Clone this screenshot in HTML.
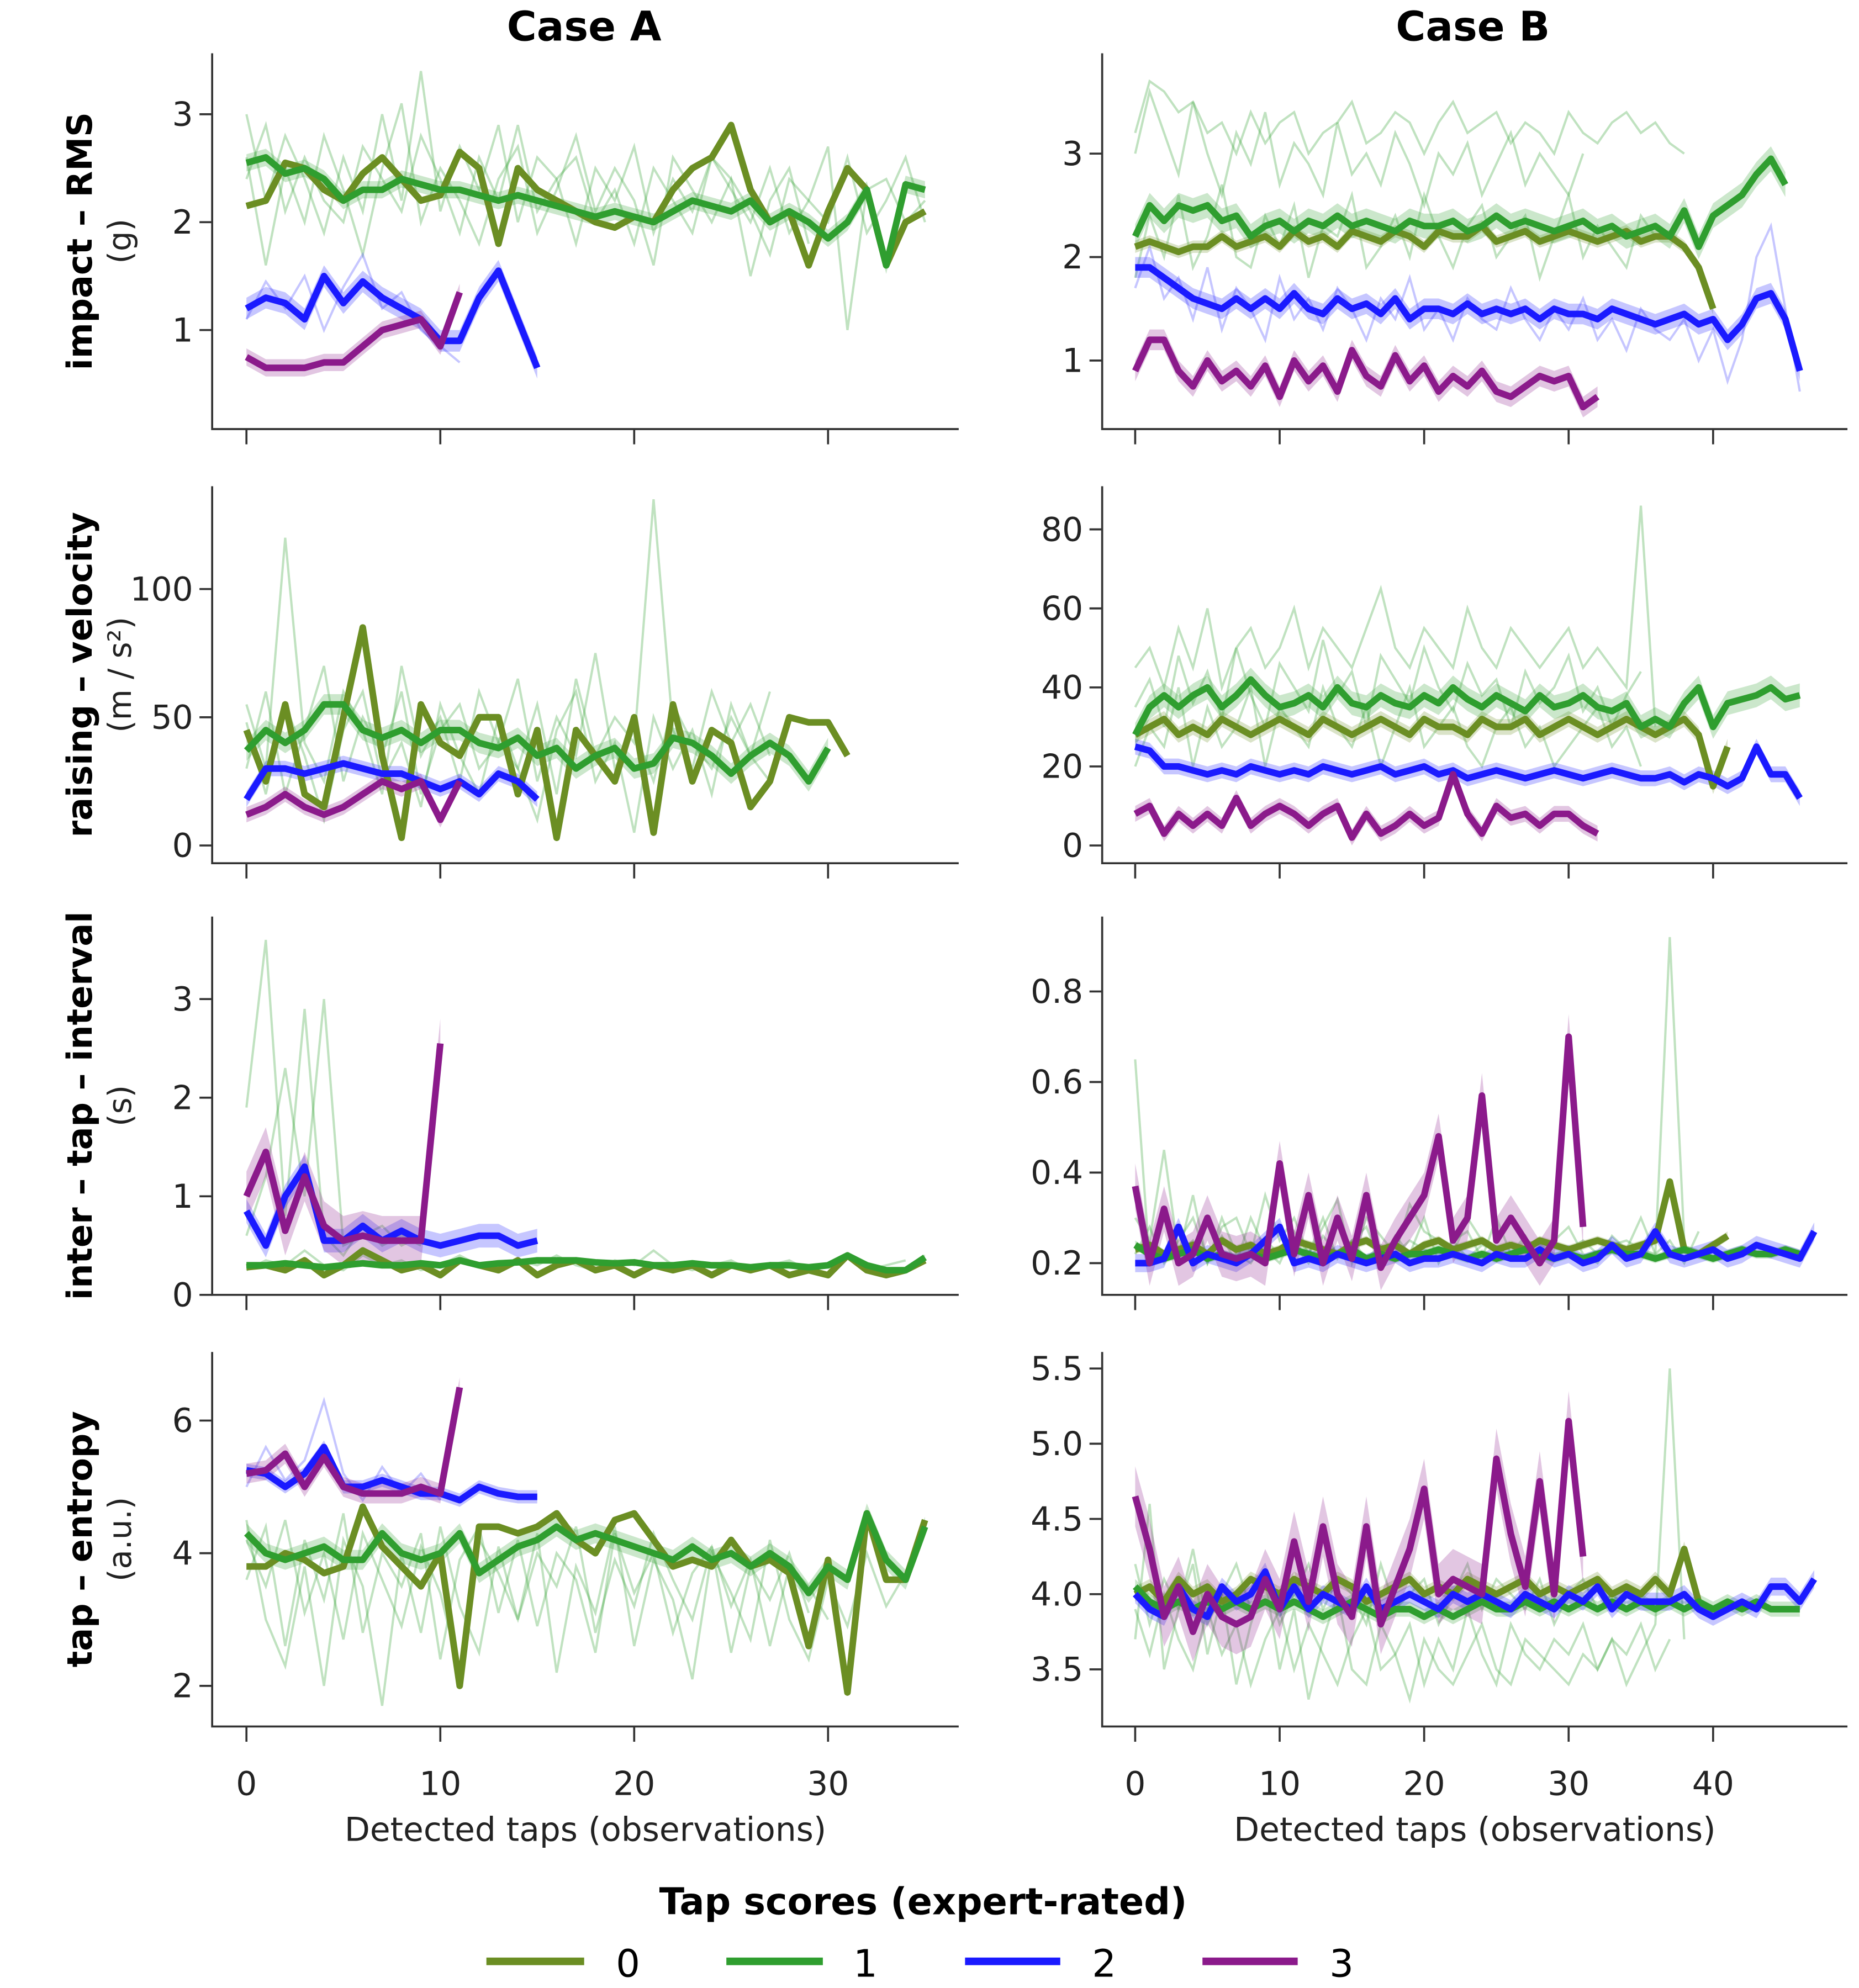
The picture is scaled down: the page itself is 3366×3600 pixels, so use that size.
<!DOCTYPE html>
<html><head><meta charset="utf-8"><style>
html,body{margin:0;padding:0;background:#fff;}
svg{display:block;font-family:"DejaVu Sans","Liberation Sans",sans-serif;}
</style></head><body>
<svg id="fig" width="3366" height="3600" viewBox="0 0 1464 1566" xmlns="http://www.w3.org/2000/svg">
<rect width="1464" height="1566" fill="#fff"/>
<text x="460" y="32" font-size="32" font-weight="bold" text-anchor="middle">Case A</text>
<text x="1160" y="32" font-size="32" font-weight="bold" text-anchor="middle">Case B</text>
<g id="panels"></g>
<text x="727" y="1508" font-size="29" font-weight="bold" text-anchor="middle">Tap scores (expert-rated)</text>
<g>
<line x1="383" y1="1545" x2="460" y2="1545" stroke="#6b8e23" stroke-width="6"/><text x="485" y="1557" font-size="30">0</text>
<line x1="572" y1="1545" x2="648" y2="1545" stroke="#2f9e2f" stroke-width="6"/><text x="672" y="1557" font-size="30">1</text>
<line x1="760" y1="1545" x2="835" y2="1545" stroke="#1a1aff" stroke-width="6"/><text x="860" y="1557" font-size="30">2</text>
<line x1="947" y1="1545" x2="1022" y2="1545" stroke="#8b1a8b" stroke-width="6"/><text x="1047" y="1557" font-size="30">3</text>
</g>
</svg>
<script>
// ---- data ----
const a1_s0=[2.15,2.2,2.55,2.5,2.3,2.2,2.45,2.6,2.4,2.2,2.25,2.65,2.5,1.8,2.5,2.3,2.2,2.1,2.0,1.95,2.05,2.0,2.3,2.5,2.6,2.9,2.3,2.0,2.1,1.6,2.1,2.5,2.3,1.6,2.0,2.1];
const a1_s1=[2.55,2.6,2.45,2.5,2.4,2.2,2.3,2.3,2.4,2.35,2.3,2.3,2.25,2.2,2.25,2.2,2.15,2.1,2.05,2.1,2.05,2.0,2.1,2.2,2.15,2.1,2.2,2.0,2.1,2.0,1.85,2.0,2.3,1.6,2.35,2.3];
const a1_s2=[1.2,1.3,1.25,1.1,1.5,1.25,1.45,1.3,1.2,1.1,0.9,0.9,1.3,1.55,1.1,0.65];
const a1_s3=[0.75,0.65,0.65,0.65,0.7,0.7,0.85,1.0,1.05,1.1,0.85,1.35];
const a1_f1=[3.0,2.2,2.8,2.4,1.9,2.6,2.1,3.0,2.2,3.4,2.1,2.7,2.3,2.9,2.0,2.6,2.4,1.8,2.5,2.2,2.7,1.9,2.4,2.1,2.6,2.3,2.0,2.5,1.9,2.2,2.7,1.0,2.3,2.4,2.0,2.2];
const a1_f2=[2.4,2.9,2.1,2.6,2.2,2.0,2.7,2.4,2.1,2.8,2.4,1.9,2.6,2.2,2.9,2.1,2.4,2.6,2.0,2.3,1.8,2.5,2.2,1.9,2.6,2.4,2.1,1.7,2.4,2.2,2.0,2.6,1.9,2.2,2.6,2.0];
const a1_f3=[2.6,1.6,2.5,2.0,2.8,2.3,1.7,2.5,3.1,2.0,2.5,2.2,1.8,2.4,2.7,1.9,2.3,2.8,2.1,2.5,2.2,1.6,2.6,2.3,2.0,2.4,1.5,2.2,2.5,1.8];
const a1_b1=[1.1,1.45,1.2,1.5,1.0,1.4,1.7,1.2,1.35,1.0,0.85,0.7];
const b1_s0=[2.1,2.15,2.1,2.05,2.1,2.1,2.2,2.1,2.15,2.2,2.1,2.25,2.15,2.2,2.1,2.25,2.2,2.15,2.25,2.2,2.1,2.25,2.2,2.2,2.3,2.15,2.2,2.25,2.15,2.2,2.25,2.2,2.15,2.2,2.25,2.15,2.2,2.2,2.1,1.9,1.5];
const b1_s1=[2.2,2.5,2.35,2.5,2.45,2.5,2.35,2.4,2.2,2.3,2.35,2.25,2.35,2.3,2.4,2.3,2.35,2.3,2.25,2.35,2.3,2.3,2.35,2.25,2.3,2.4,2.3,2.35,2.3,2.25,2.3,2.35,2.25,2.3,2.2,2.25,2.3,2.2,2.45,2.1,2.4,2.5,2.6,2.8,2.95,2.7];
const b1_s2=[1.9,1.9,1.8,1.7,1.6,1.55,1.5,1.6,1.5,1.6,1.5,1.65,1.5,1.45,1.6,1.5,1.55,1.45,1.6,1.4,1.5,1.5,1.45,1.55,1.45,1.5,1.45,1.5,1.4,1.5,1.45,1.45,1.4,1.5,1.45,1.4,1.35,1.4,1.45,1.35,1.4,1.2,1.35,1.6,1.65,1.4,0.9];
const b1_s3=[0.9,1.2,1.2,0.9,0.75,1.0,0.8,0.9,0.75,0.95,0.65,1.0,0.8,0.95,0.7,1.1,0.85,0.75,1.05,0.8,0.95,0.7,0.85,0.75,0.9,0.7,0.65,0.75,0.85,0.8,0.85,0.55,0.65];
const b1_f1=[3.2,3.7,3.6,3.4,3.5,3.2,3.3,3.0,3.4,3.1,3.3,3.4,3.0,3.2,3.3,3.5,3.1,3.2,3.4,3.3,3.0,3.3,3.5,3.2,3.3,3.4,3.1,3.3,3.2,3.0,3.4,3.2,3.1,3.3,3.4,3.2,3.3,3.1,3.0];
const b1_f2=[1.8,2.4,2.0,2.6,1.9,2.2,2.7,2.0,1.9,2.4,2.1,2.5,1.8,2.3,2.2,2.6,1.9,2.1,2.4,2.0,2.6,2.2,1.9,2.3,2.5,2.0,2.2,2.4,1.8,2.2,2.6,2.0,2.3,2.1,1.9,2.4,2.2];
const b1_f3=[3.0,3.6,3.2,2.8,3.5,3.0,2.6,3.2,2.9,3.4,2.7,3.1,2.9,2.6,3.3,2.8,3.0,2.7,3.2,2.9,2.5,3.0,2.8,3.1,2.6,2.9,3.2,2.7,3.0,2.8,2.6,3.0];
const b1_b1=[1.7,2.1,1.6,1.8,1.4,1.9,1.3,1.7,1.5,1.2,1.8,1.4,1.6,1.3,1.7,1.5,1.2,1.6,1.4,1.8,1.3,1.5,1.2,1.6,1.4,1.3,1.7,1.4,1.2,1.5,1.3,1.6,1.2,1.4,1.1,1.5,1.3,1.2,1.4,1.0,1.3,0.8,1.2,2.0,2.3,1.5,0.7];
const a2_s0=[45,25,55,20,15,50,85,35,3,55,40,35,50,50,20,45,3,45,35,25,50,5,55,25,45,40,15,25,50,48,48,35];
const a2_s1=[37,45,40,45,55,55,45,42,45,40,45,45,40,38,42,35,38,30,35,38,30,32,42,40,35,28,35,40,35,25,38];
const a2_s2=[18,30,30,28,30,32,30,28,28,25,22,25,20,28,25,18];
const a2_s3=[12,15,20,15,12,15,20,25,22,25,10,25];
const a2_f1=[55,30,120,40,25,60,45,20,70,35,50,25,60,40,30,55,20,65,35,50,40,135,45,30,60,40,55,35];
const a2_f2=[30,60,20,45,70,25,50,35,60,20,45,55,30,40,65,25,50,35,75,30,45,25,55,40,30,50,35,60];
const a2_f3=[48,20,55,35,10,45,60,25,40,15,55,35,20,50,30,10,45,60,25,40,5,50,30,45,20,55,35,25];
const b2_s0=[28,30,32,28,30,28,32,30,28,30,32,30,28,32,30,28,30,32,30,28,32,30,30,28,32,30,30,32,28,30,32,30,28,30,32,30,28,30,32,28,15,25];
const b2_s1=[28,35,38,35,38,40,35,38,42,38,35,36,38,35,40,36,35,38,36,35,38,36,40,37,35,38,36,34,38,35,36,38,35,34,36,30,32,30,36,40,30,36,37,38,40,37,38];
const b2_s2=[25,24,20,20,19,18,19,18,20,19,18,19,18,20,19,18,19,20,18,19,20,18,19,17,18,19,18,17,18,19,18,17,18,19,18,17,17,18,16,18,17,15,17,25,18,18,12];
const b2_s3=[8,10,3,8,5,8,5,12,5,8,10,8,5,8,10,2,8,3,5,8,5,7,18,8,3,10,7,8,5,8,8,5,3];
const b2_f1=[45,50,40,55,45,60,40,50,55,45,50,60,45,55,50,45,55,65,50,45,55,50,45,60,50,45,55,50,45,50,55,45,50,45,40,86,30];
const b2_f2=[20,30,25,40,20,35,25,30,40,20,35,30,25,40,30,25,35,20,30,40,25,30,35,25,20,30,35,25,30,20,25,30,35,25,30,20];
const b2_f3=[35,42,30,48,36,44,32,50,38,30,46,40,34,52,38,44,30,48,42,36,50,40,34,46,38,42,30,44,36,40,48,34,40,30,38,44];
const a3_s0=[0.28,0.3,0.25,0.35,0.2,0.3,0.45,0.35,0.25,0.3,0.2,0.35,0.3,0.25,0.35,0.2,0.3,0.35,0.25,0.3,0.2,0.3,0.25,0.3,0.2,0.3,0.25,0.3,0.2,0.25,0.2,0.4,0.25,0.2,0.25,0.35];
const a3_s1=[0.3,0.3,0.32,0.3,0.28,0.3,0.32,0.3,0.3,0.32,0.3,0.35,0.3,0.32,0.33,0.35,0.35,0.35,0.33,0.32,0.33,0.3,0.3,0.32,0.3,0.3,0.28,0.3,0.3,0.28,0.3,0.4,0.3,0.25,0.25,0.38];
const a3_s2=[0.85,0.5,1.0,1.3,0.55,0.55,0.7,0.55,0.65,0.55,0.5,0.55,0.6,0.6,0.5,0.55];
const a3_s3=[1.0,1.45,0.65,1.2,0.7,0.55,0.6,0.55,0.55,0.55,2.55];
const a3_f1=[1.9,3.6,0.8,2.9,0.6,0.4,0.7,0.5,0.6,0.5];
const a3_f2=[0.6,1.2,2.3,1.0,3.0,0.5,0.6,0.7,0.5,0.6];
const a3_f3=[0.25,0.35,0.3,0.45,0.3,0.25,0.4,0.3,0.35,0.25,0.3,0.4,0.3,0.25,0.35,0.3,0.4,0.3,0.25,0.35,0.3,0.45,0.3,0.25,0.3,0.35,0.25,0.3,0.35,0.25,0.3,0.4,0.25,0.3,0.35];
const b3_s0=[0.23,0.24,0.22,0.23,0.24,0.22,0.25,0.23,0.24,0.22,0.23,0.25,0.24,0.23,0.22,0.24,0.25,0.23,0.24,0.22,0.24,0.25,0.23,0.24,0.25,0.23,0.24,0.23,0.25,0.24,0.23,0.24,0.25,0.24,0.23,0.24,0.25,0.38,0.23,0.22,0.24,0.26];
const b3_s1=[0.24,0.22,0.21,0.22,0.23,0.21,0.22,0.21,0.22,0.21,0.22,0.23,0.22,0.21,0.22,0.23,0.21,0.22,0.21,0.22,0.22,0.23,0.22,0.21,0.22,0.21,0.22,0.23,0.22,0.21,0.22,0.21,0.22,0.23,0.22,0.22,0.21,0.22,0.23,0.22,0.21,0.22,0.23,0.22,0.22,0.23,0.22];
const b3_s2=[0.2,0.2,0.21,0.28,0.2,0.22,0.21,0.2,0.22,0.25,0.28,0.2,0.21,0.2,0.22,0.21,0.2,0.21,0.22,0.2,0.21,0.21,0.22,0.21,0.2,0.22,0.21,0.21,0.23,0.21,0.22,0.2,0.21,0.24,0.21,0.22,0.27,0.22,0.21,0.22,0.23,0.21,0.22,0.24,0.23,0.22,0.21,0.27];
const b3_s3=[0.37,0.2,0.32,0.2,0.22,0.3,0.22,0.21,0.22,0.2,0.42,0.22,0.35,0.2,0.3,0.21,0.35,0.19,0.25,0.3,0.35,0.48,0.25,0.3,0.57,0.25,0.3,0.25,0.2,0.25,0.7,0.28];
const b3_f1=[0.65,0.2,0.3,0.22,0.25,0.2,0.3,0.22,0.2,0.25,0.22,0.24,0.2,0.26,0.22,0.25,0.21,0.24,0.22,0.25,0.23,0.22,0.25,0.21,0.24,0.23,0.22,0.25,0.24,0.22,0.23,0.25,0.22,0.24,0.25,0.23,0.22,0.92,0.25];
const b3_f2=[0.3,0.25,0.45,0.22,0.35,0.2,0.28,0.3,0.22,0.35,0.25,0.3,0.22,0.28,0.34,0.2,0.3,0.26,0.22,0.33,0.27,0.25,0.22,0.3,0.25];
const b3_f3=[0.22,0.28,0.2,0.25,0.3,0.21,0.26,0.2,0.3,0.23,0.2,0.27,0.22,0.3,0.21,0.25,0.28,0.2,0.26,0.22,0.3,0.2,0.25,0.27,0.21,0.3,0.22,0.26,0.2,0.25,0.28,0.22,0.2,0.26,0.23,0.3,0.22,0.25,0.2,0.27];
const a4_s0=[3.8,3.8,4.0,3.9,3.7,3.8,4.7,4.1,3.8,3.5,4.0,2.0,4.4,4.4,4.3,4.4,4.6,4.2,4.0,4.5,4.6,4.2,3.8,3.9,3.8,4.2,3.8,3.9,3.7,2.6,3.9,1.9,4.6,3.6,3.6,4.5];
const a4_s1=[4.3,4.0,3.9,4.0,4.1,3.9,3.9,4.3,4.0,3.9,4.0,4.3,3.7,3.9,4.1,4.2,4.4,4.2,4.3,4.2,4.1,4.0,3.9,4.1,3.9,4.0,3.8,4.0,3.8,3.4,3.8,3.6,4.6,3.9,3.6,4.4];
const a4_s2=[5.25,5.2,5.0,5.2,5.6,5.0,5.0,5.1,5.0,4.9,4.9,4.8,5.0,4.9,4.85,4.85];
const a4_s3=[5.2,5.25,5.5,5.0,5.45,5.0,4.9,4.9,4.9,5.0,4.9,6.5];
const a4_f1=[4.5,3.0,2.3,3.8,2.0,4.2,3.5,1.7,4.0,2.8,4.4,3.2,2.5,4.1,3.0,4.3,2.2,3.8,3.1,4.4,2.6,3.9,3.3,2.1,4.0,3.4,2.7,4.2,3.0,2.4,3.6,2.9,4.0,3.2,3.7];
const a4_f2=[3.6,4.4,2.6,4.2,3.3,4.6,2.8,4.0,3.5,4.3,2.4,3.9,4.4,3.1,4.2,2.9,4.0,3.6,2.5,4.3,3.4,4.0,2.8,3.7,4.1,3.2,3.9,2.6,3.8,3.5,3.0];
const a4_f3=[4.2,3.5,4.5,3.1,4.0,2.7,4.3,3.6,2.9,4.1,3.4,2.2,4.2,3.7,3.0,4.0,3.5,4.4,2.8,3.9,3.2,4.3,3.6,3.0,4.1,2.5,3.8,3.3,4.0,3.1];
const a4_b1=[5.0,5.6,5.1,5.4,6.3,5.2,4.8,5.3,4.9,5.2,4.8];
const b4_s0=[4.0,4.05,3.95,4.1,4.0,4.05,3.95,4.0,4.1,4.05,4.0,4.1,4.05,4.0,4.1,4.05,3.95,4.0,4.05,4.1,4.0,4.05,4.0,4.1,4.05,4.0,4.05,4.1,4.0,4.05,4.0,4.05,4.1,4.0,4.05,4.0,4.1,4.0,4.3,3.95];
const b4_s1=[4.05,3.95,3.9,3.95,3.9,3.95,3.9,3.95,3.9,3.95,3.9,3.95,3.9,3.85,3.9,3.95,3.9,3.85,3.9,3.9,3.85,3.9,3.85,3.9,3.95,3.9,3.9,3.95,3.9,3.95,3.9,3.95,3.9,3.95,3.9,3.95,3.9,3.95,3.9,3.95,3.9,3.95,3.9,3.95,3.9,3.9,3.9];
const b4_s2=[4.0,3.9,3.85,4.05,3.9,3.85,4.05,3.95,4.0,4.15,3.9,4.05,3.9,4.0,3.95,3.9,4.05,3.9,3.95,4.0,3.95,3.9,4.0,3.95,4.0,3.95,3.9,4.0,3.95,3.9,4.0,3.95,4.05,3.9,4.0,3.95,3.95,3.95,4.0,3.9,3.85,3.9,3.95,3.9,4.05,4.05,3.95,4.1];
const b4_s3=[4.65,4.3,3.85,4.05,3.75,4.0,3.85,3.8,3.85,4.1,3.9,4.35,3.95,4.45,4.0,3.85,4.45,3.8,4.05,4.3,4.7,4.0,4.1,4.05,4.0,4.9,4.4,4.05,4.75,4.0,5.15,4.25];
const b4_f1=[3.7,4.6,3.5,3.9,4.2,3.6,4.0,3.4,3.8,4.1,3.5,3.9,3.3,3.7,4.0,3.5,3.4,3.8,3.6,3.3,3.7,3.5,3.4,3.6,3.8,3.5,3.4,3.7,3.6,3.5,3.4,3.6,3.5,3.7,3.4,3.6,3.8,5.5,3.7];
const b4_f2=[4.2,3.8,4.1,3.9,4.3,3.8,4.0,4.2,3.9,4.1,3.8,4.0,4.2,3.9,4.1,4.0,3.8,4.2,3.9,4.0,4.1,3.8,4.0,4.2,3.9,4.1,4.0,3.9,4.1,3.8,4.0,4.1,3.9,4.0,3.9,4.0];
const b4_f3=[3.9,3.6,4.0,3.7,3.5,3.9,3.6,3.8,3.4,3.7,3.9,3.5,3.8,3.6,3.4,3.7,3.9,3.5,3.6,3.8,3.4,3.7,3.5,3.9,3.6,3.4,3.8,3.6,3.5,3.7,3.6,3.8,3.5,3.7,3.6,3.8,3.5,3.7];
const xTicksA=[0,10,20,30], xTicksB=[0,10,20,30,40];
</script>
<script>
const COLORS=["#6b8e23","#2f9e2f","#1a1aff","#8b1a8b"];
const rowsY=[[42,338],[383,680],[722,1020],[1065,1360]];
const colX=[{sp:167,x0:194,ppu:15.27,end:755,ticks:xTicksA},{sp:868,x0:894,ppu:11.38,end:1455,ticks:xTicksB}];
const panels=[
 {r:0,c:0,ticks:[1,2,3],lab:["1","2","3"],ref:[3,90,1,260],series:[a1_s0,a1_s1,a1_s2,a1_s3],faint:[a1_f1,a1_f2,a1_f3],faintB:[a1_b1],band:[0,0.08,0.1,0.08],name:"impact-rms-case-a"},
 {r:0,c:1,ticks:[1,2,3],lab:["1","2","3"],ref:[3,121,1,284],series:[b1_s0,b1_s1,b1_s2,b1_s3],faint:[b1_f1,b1_f2,b1_f3],faintB:[b1_b1],band:[0.06,0.12,0.1,0.1],name:"impact-rms-case-b"},
 {r:1,c:0,ticks:[0,50,100],lab:["0","50","100"],ref:[100,464,0,666],series:[a2_s0,a2_s1,a2_s2,a2_s3],faint:[a2_f1,a2_f2,a2_f3],faintB:[],band:[0,4,3,3],name:"raising-velocity-case-a"},
 {r:1,c:1,ticks:[0,20,40,60,80],lab:["0","20","40","60","80"],ref:[80,417,0,666],series:[b2_s0,b2_s1,b2_s2,b2_s3],faint:[b2_f1,b2_f2,b2_f3],faintB:[],band:[2,3,2,2],name:"raising-velocity-case-b"},
 {r:2,c:0,ticks:[0,1,2,3],lab:["0","1","2","3"],ref:[3,787,0,1020],series:[a3_s0,a3_s1,a3_s2,a3_s3],faint:[a3_f1,a3_f2,a3_f3],faintB:[],band:[0,0.03,0.12,0.25],name:"inter-tap-interval-case-a"},
 {r:2,c:1,ticks:[0.2,0.4,0.6,0.8],lab:["0.2","0.4","0.6","0.8"],ref:[0.8,781,0.2,995],series:[b3_s0,b3_s1,b3_s2,b3_s3],faint:[b3_f1,b3_f2,b3_f3],faintB:[],band:[0.01,0.01,0.02,0.05],name:"inter-tap-interval-case-b"},
 {r:3,c:0,ticks:[2,4,6],lab:["2","4","6"],ref:[6,1119,2,1328],series:[a4_s0,a4_s1,a4_s2,a4_s3],faint:[a4_f1,a4_f2,a4_f3],faintB:[a4_b1],band:[0,0.15,0.1,0.15],name:"tap-entropy-case-a"},
 {r:3,c:1,ticks:[3.5,4.0,4.5,5.0,5.5],lab:["3.5","4.0","4.5","5.0","5.5"],ref:[5.5,1078,3.5,1315],series:[b4_s0,b4_s1,b4_s2,b4_s3],faint:[b4_f1,b4_f2,b4_f3],faintB:[],band:[0.05,0.05,0.06,0.2],name:"tap-entropy-case-b"}
];
const ylabels=[["impact – RMS","(g)"],["raising – velocity","(m / s²)"],["inter – tap – interval","(s)"],["tap – entropy","(a.u.)"]];
const NS="http://www.w3.org/2000/svg";
const root=document.getElementById('panels');
function mk(tag,attrs,parent){const e=document.createElementNS(NS,tag);for(const k in attrs)e.setAttribute(k,attrs[k]);(parent||root).appendChild(e);return e;}
panels.forEach(p=>{
 const cx=colX[p.c],[top,bot]=rowsY[p.r];
 const g=mk('g',{});
 
 
 const sy=(v)=>p.ref[1]+(v-p.ref[0])*(p.ref[3]-p.ref[1])/(p.ref[2]-p.ref[0]);
 const sx=(i)=>cx.x0+i*cx.ppu;
 const ax=mk('path',{d:`M${cx.sp} ${top}V${bot}H${cx.end}`,fill:'none',stroke:'#333','stroke-width':1.6},g);
 
 
 p.ticks.forEach((t,i)=>{
  const y=sy(t);
  mk('line',{x1:cx.sp-10,x2:cx.sp,y1:y,y2:y,stroke:'#333','stroke-width':1.6},g);
  const tx=mk('text',{x:cx.sp-15,y:y+9,'font-size':26,'text-anchor':'end',fill:'#222'},g);
  tx.textContent=p.lab[i];
  
  
 });
 cx.ticks.forEach(t=>{
  const x=sx(t);
  mk('line',{x1:x,x2:x,y1:bot,y2:bot+12,stroke:'#333','stroke-width':1.6},g);
  if(p.r===3){const tx=mk('text',{x:x,y:bot+54,'font-size':26,'text-anchor':'middle',fill:'#222'},g);tx.textContent=t;
   
   }
 });
 p.faint.forEach(f=>{
  const pl=mk('polyline',{points:f.map((v,i)=>sx(i)+','+sy(v)).join(' '),fill:'none',stroke:COLORS[1],'stroke-opacity':0.3,'stroke-width':1.8},g);
  
  
 });
 p.faintB.forEach(f=>{
  const pl=mk('polyline',{points:f.map((v,i)=>sx(i)+','+sy(v)).join(' '),fill:'none',stroke:COLORS[2],'stroke-opacity':0.25,'stroke-width':1.8},g);
  
  
 });
 p.series.forEach((s,k)=>{
  const b=p.band[k];
  if(b>0){
   const up=s.map((v,i)=>sx(i)+','+sy(v+b)), dn=s.map((v,i)=>sx(i)+','+sy(v-b)).reverse();
   const pg=mk('polygon',{points:up.concat(dn).join(' '),fill:COLORS[k],'fill-opacity':0.25,stroke:'none'},g);
   
   
  }
 });
 p.series.forEach((s,k)=>{
  const pl=mk('polyline',{points:s.map((v,i)=>sx(i)+','+sy(v)).join(' '),fill:'none',stroke:COLORS[k],'stroke-width':5.2,'stroke-linejoin':'round'},g);
  
  
 });
 if(p.c===0){
  const cy=(top+bot)/2;
  const t1=mk('text',{x:0,y:0,'font-size':27,'font-weight':'bold','text-anchor':'middle',transform:`translate(72 ${cy}) rotate(-90)`},g);
  t1.textContent=ylabels[p.r][0];
  
  
  const t2=mk('text',{x:0,y:0,'font-size':25,'text-anchor':'middle',fill:'#222',transform:`translate(103 ${cy}) rotate(-90)`},g);
  t2.textContent=ylabels[p.r][1];
  
  
 }
 if(p.r===3){
  const xt=mk('text',{x:(cx.sp+cx.end)/2,y:bot+90,'font-size':26,'text-anchor':'middle',fill:'#222'},g);
  xt.textContent='Detected taps (observations)';
  
  
 }
});
</script>
</body></html>
